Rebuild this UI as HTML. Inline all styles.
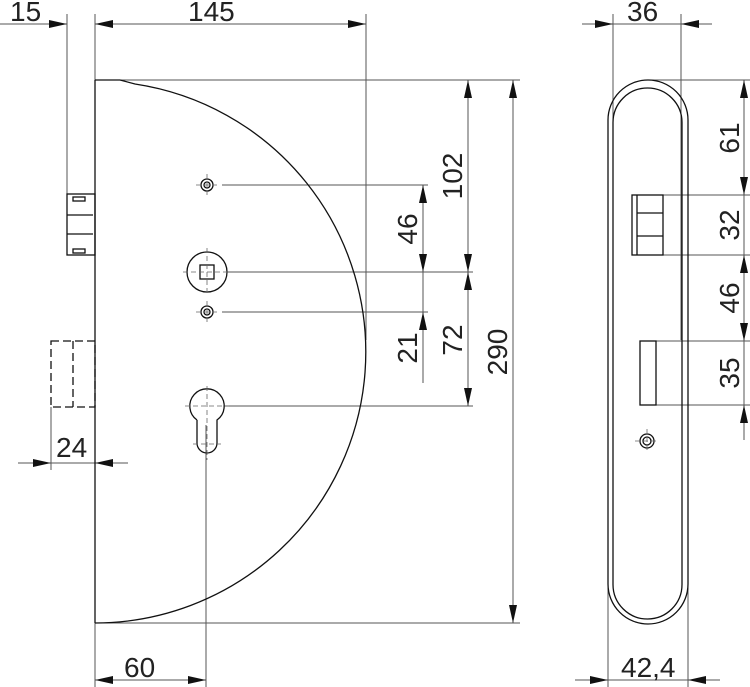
<!DOCTYPE html>
<html><head><meta charset="utf-8"><style>html,body{margin:0;padding:0;background:#fff}svg{display:block}text{font-family:"Liberation Sans",sans-serif;font-size:28px;fill:#222}</style></head><body>
<svg width="750" height="687" viewBox="0 0 750 687" xmlns="http://www.w3.org/2000/svg">
<defs><marker id="a" markerUnits="userSpaceOnUse" markerWidth="18" markerHeight="8" refX="18" refY="4" orient="auto-start-reverse"><path d="M0,0L18,4L0,8z" fill="#111"/></marker></defs>
<g stroke="#555" stroke-width="1" fill="none">
<line x1="67" y1="14" x2="67" y2="194"/>
<line x1="95" y1="14" x2="95" y2="687"/>
<line x1="366" y1="14" x2="366" y2="340"/>
<line x1="95" y1="80" x2="520" y2="80"/>
<line x1="95" y1="623" x2="520" y2="623"/>
<line x1="51" y1="407" x2="51" y2="470"/>
<line x1="206" y1="425" x2="206" y2="687"/>
<line x1="222" y1="185" x2="428" y2="185"/>
<line x1="227" y1="272" x2="473" y2="272"/>
<line x1="222" y1="312" x2="428" y2="312"/>
<line x1="224" y1="406" x2="473" y2="406"/>
<line x1="0" y1="24" x2="67" y2="24" marker-end="url(#a)"/>
<line x1="95" y1="24" x2="366" y2="24" marker-start="url(#a)" marker-end="url(#a)"/>
<line x1="18" y1="463" x2="51" y2="463" marker-end="url(#a)"/>
<line x1="128" y1="463" x2="95" y2="463" marker-end="url(#a)"/>
<line x1="51" y1="463" x2="95" y2="463"/>
<line x1="95" y1="680" x2="206" y2="680" marker-start="url(#a)" marker-end="url(#a)"/>
<line x1="423" y1="185" x2="423" y2="272" marker-start="url(#a)" marker-end="url(#a)"/>
<line x1="423" y1="272" x2="423" y2="312"/>
<line x1="423" y1="383" x2="423" y2="312" marker-end="url(#a)"/>
<line x1="468" y1="80" x2="468" y2="272" marker-start="url(#a)" marker-end="url(#a)"/>
<line x1="468" y1="272" x2="468" y2="406" marker-start="url(#a)" marker-end="url(#a)"/>
<line x1="513" y1="80" x2="513" y2="623" marker-start="url(#a)" marker-end="url(#a)"/>
<line x1="613" y1="14" x2="613" y2="340"/>
<line x1="681" y1="14" x2="681" y2="340"/>
<line x1="582" y1="24" x2="613" y2="24" marker-end="url(#a)"/>
<line x1="712" y1="24" x2="681" y2="24" marker-end="url(#a)"/>
<line x1="613" y1="24" x2="681" y2="24"/>
<line x1="608" y1="560" x2="608" y2="687"/>
<line x1="688" y1="560" x2="688" y2="687"/>
<line x1="575" y1="680" x2="608" y2="680" marker-end="url(#a)"/>
<line x1="720" y1="680" x2="688" y2="680" marker-end="url(#a)"/>
<line x1="608" y1="680" x2="688" y2="680"/>
<line x1="647" y1="80" x2="750" y2="80"/>
<line x1="663" y1="195" x2="750" y2="195"/>
<line x1="663" y1="255" x2="750" y2="255"/>
<line x1="656" y1="341" x2="750" y2="341"/>
<line x1="656" y1="405" x2="750" y2="405"/>
<line x1="744" y1="80" x2="744" y2="195" marker-start="url(#a)" marker-end="url(#a)"/>
<line x1="744" y1="195" x2="744" y2="255"/>
<line x1="744" y1="255" x2="744" y2="341" marker-start="url(#a)" marker-end="url(#a)"/>
<line x1="744" y1="341" x2="744" y2="405"/>
<line x1="744" y1="440" x2="744" y2="405" marker-end="url(#a)"/>
</g>
<g stroke="#111" stroke-width="1.3" fill="none">
<path d="M95,80 L120,80 L135,84 A271,271 0 0 1 95,623"/>
<line x1="95" y1="80" x2="95" y2="623"/>
<rect x="67" y="194" width="28" height="61"/>
<line x1="67" y1="215" x2="93" y2="215"/><line x1="67" y1="234" x2="93" y2="234"/>
<rect x="73" y="197" width="12" height="4"/><rect x="73" y="249" width="12" height="4"/>
<g stroke-dasharray="8,4"><rect x="51" y="341" width="44" height="66"/><line x1="73" y1="341" x2="73" y2="407"/></g>
<circle cx="207" cy="185" r="6"/><circle cx="207" cy="185" r="3"/>
<circle cx="207" cy="312" r="6"/><circle cx="207" cy="312" r="3"/>
<circle cx="207" cy="272" r="20"/><rect x="200" y="265" width="14" height="14"/>
<path d="M197,420 L197,443 A10,10 0 0 0 217,443 L217,420 A17.2,17.2 0 1 0 197,420"/>
<rect x="608" y="80" width="80" height="544" rx="40" ry="40"/>
<rect x="613" y="88" width="69" height="531" rx="34.5" ry="34.5"/>
<rect x="632" y="195" width="31" height="60"/>
<line x1="637" y1="213" x2="663" y2="213"/><line x1="637" y1="236" x2="663" y2="236"/>
<line x1="637" y1="195" x2="637" y2="255"/>
<rect x="640" y="341" width="16" height="64"/>
<circle cx="647" cy="441" r="7"/><circle cx="647" cy="441" r="4"/>
</g>
<g stroke="#666" stroke-width="0.8" stroke-dasharray="5,3">
<line x1="196" y1="185" x2="218" y2="185"/><line x1="207" y1="174" x2="207" y2="196"/>
<line x1="196" y1="312" x2="218" y2="312"/><line x1="207" y1="301" x2="207" y2="323"/>
<line x1="183" y1="272" x2="231" y2="272"/><line x1="207" y1="248" x2="207" y2="296"/>
<line x1="185" y1="406" x2="229" y2="406"/><line x1="207" y1="386" x2="207" y2="460"/>
<line x1="193" y1="444" x2="221" y2="444"/>
<line x1="635" y1="441" x2="659" y2="441"/><line x1="647" y1="429" x2="647" y2="453"/>
</g>
<text x="10" y="21">15</text>
<text x="188" y="21">145</text>
<text x="56" y="457">24</text>
<text x="124" y="677">60</text>
<text x="627" y="21">36</text>
<text x="621" y="677">42,4</text>
<g text-anchor="middle">
<text transform="translate(417,229) rotate(-90)">46</text>
<text transform="translate(417,348) rotate(-90)">21</text>
<text transform="translate(462,176) rotate(-90)">102</text>
<text transform="translate(462,340) rotate(-90)">72</text>
<text transform="translate(507,352) rotate(-90)">290</text>
<text transform="translate(739,138) rotate(-90)">61</text>
<text transform="translate(739,225) rotate(-90)">32</text>
<text transform="translate(739,298) rotate(-90)">46</text>
<text transform="translate(739,373) rotate(-90)">35</text>
</g>
</svg>
</body></html>
